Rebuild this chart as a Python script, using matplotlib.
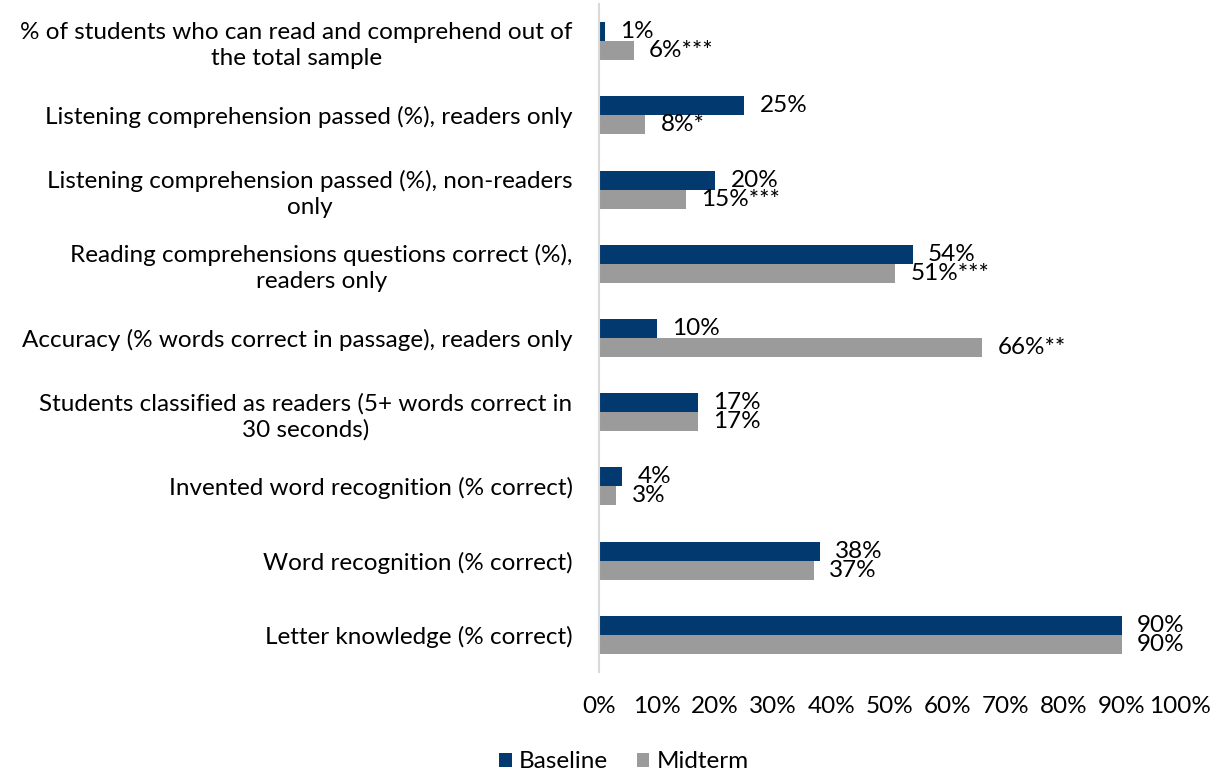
import matplotlib
matplotlib.use('Agg')
import matplotlib.pyplot as plt
import numpy as np
from matplotlib.ticker import PercentFormatter

plt.rcParams['font.family'] = ['Lato', 'DejaVu Sans']

categories = [
    '% of students who can read and comprehend out of\nthe total sample',
    'Listening comprehension passed (%), readers only',
    'Listening comprehension passed (%), non-readers\nonly',
    'Reading comprehensions questions correct (%),\nreaders only',
    'Accuracy (% words correct in passage), readers only',
    'Students classified as readers (5+ words correct in\n30 seconds)',
    'Invented word recognition (% correct)',
    'Word recognition (% correct)',
    'Letter knowledge (% correct)',
]
baseline = [1, 25, 20, 54, 10, 17, 4, 38, 90]
midterm = [6, 8, 15, 51, 66, 17, 3, 37, 90]
midterm_sig = ['***', '*', '***', '***', '**', '', '', '', '']
x_ticks = [0, 10, 20, 30, 40, 50, 60, 70, 80, 90, 100]

C_BASE = '#023A70'
C_MID = '#9B9B9B'
FS = 17.5

fig = plt.figure(figsize=(12.17, 7.75), dpi=100, facecolor='white')
ax = fig.add_axes([599 / 1217, 1 - 672 / 775, (1180 - 599) / 1217, (672 - 4) / 775])

y = np.arange(len(categories))
h = 0.256
b1 = ax.barh(y - h / 2, baseline, height=h, color=C_BASE, label='Baseline')
b2 = ax.barh(y + h / 2, midterm, height=h, color=C_MID, label='Midterm')

for v, yy in zip(baseline, y - h / 2):
    ax.annotate(f'{v}%', (v, yy), xytext=(11, 0), textcoords='offset points',
                ha='left', va='center', fontsize=FS, color='black')
for v, s, yy in zip(midterm, midterm_sig, y + h / 2):
    ax.annotate(f'{v}%{s}', (v, yy), xytext=(11, 0), textcoords='offset points',
                ha='left', va='center', fontsize=FS, color='black')

ax.set_xlim(0, 100)
ax.set_ylim(len(categories) - 0.5, -0.5)
ax.set_xticks(x_ticks)
ax.xaxis.set_major_formatter(PercentFormatter(decimals=0))
ax.set_yticks(y)
ax.set_yticklabels(categories, multialignment='center', linespacing=1.3)
ax.tick_params(axis='y', length=0, pad=19, labelsize=FS)
ax.tick_params(axis='x', length=0, pad=17, labelsize=FS)

for sp in ['top', 'right', 'bottom']:
    ax.spines[sp].set_visible(False)
ax.spines['left'].set_color('#D9D9D9')
ax.spines['left'].set_linewidth(1.5)

fig.legend(handles=[b1, b2], labels=['Baseline', 'Midterm'], loc='center',
           bbox_to_anchor=(624 / 1217, 1 - 762 / 775), ncol=2, frameon=False,
           fontsize=FS, handlelength=0.5, handleheight=0.5, handletextpad=0.3,
           columnspacing=1.2)

plt.savefig('out.png', dpi=100, facecolor='white')
plt.close()
